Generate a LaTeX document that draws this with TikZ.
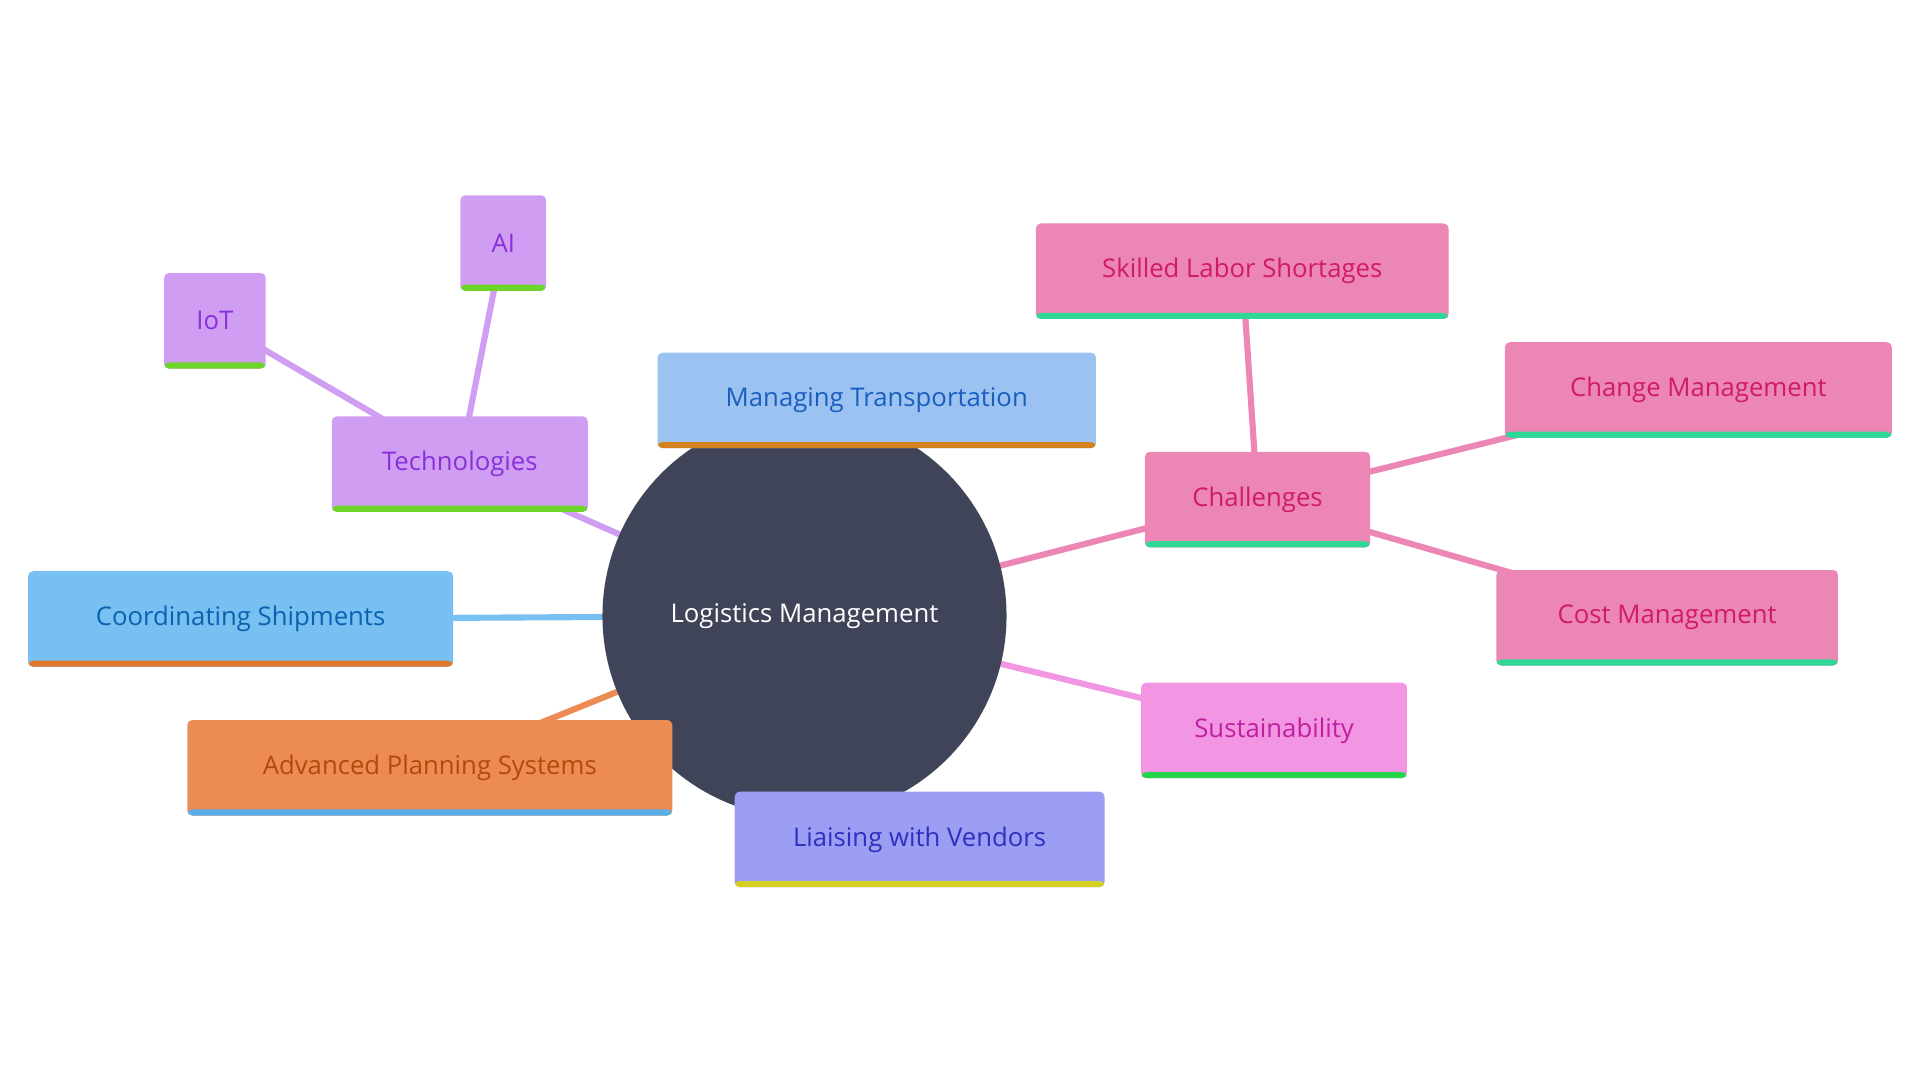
\documentclass[tikz,border=0pt]{standalone}
\usepackage{fontspec}
\setmainfont{Open Sans}
\usetikzlibrary{backgrounds}
\definecolor{core}{HTML}{404459}
\definecolor{mtF}{HTML}{9BC2F0}\definecolor{mtT}{HTML}{1A5FC0}\definecolor{mtB}{HTML}{D4821E}
\definecolor{tF}{HTML}{CF9EF2}\definecolor{tT}{HTML}{8A30D8}\definecolor{tB}{HTML}{6DD42A}
\definecolor{csF}{HTML}{78BFF2}\definecolor{csT}{HTML}{0A62B0}\definecolor{csB}{HTML}{E0782E}
\definecolor{apF}{HTML}{EC8C54}\definecolor{apT}{HTML}{B34A0A}\definecolor{apB}{HTML}{5AAEE8}
\definecolor{lvF}{HTML}{9B9EF2}\definecolor{lvT}{HTML}{3030C0}\definecolor{lvB}{HTML}{D4CF20}
\definecolor{suF}{HTML}{F295E2}\definecolor{suT}{HTML}{C020A0}\definecolor{suB}{HTML}{22D44A}
\definecolor{chF}{HTML}{EC86B4}\definecolor{chT}{HTML}{D01A6A}\definecolor{chB}{HTML}{30D898}
\tikzset{
 x=1pt,y=-1pt,
 box/.style n args={4}{draw=none,fill=#1,text=#2,rounded corners=4pt,minimum height=78pt,minimum width=#4,inner sep=0pt,
   font=\fontsize{21}{25}\selectfont,
   path picture={\fill[#3] ([yshift=5pt]path picture bounding box.south west) rectangle (path picture bounding box.south east);}},
 edge/.style={line width=5pt,draw=#1},
}
\begin{document}
\begin{tikzpicture}
\useasboundingbox (0,0) rectangle (1568,882);
\node[circle,fill=core,minimum size=330pt,text=white,font=\fontsize{21}{25}\selectfont] (lm) at (657,503) {Logistics Management};
\node[box={mtF}{mtT}{mtB}{358pt}] (mt) at (716,327) {Managing Transportation};
\node[box={tF}{tT}{tB}{209pt}] (tech) at (375.5,379) {Technologies};
\node[box={tF}{tT}{tB}{83pt}] (iot) at (175.5,262) {IoT};
\node[box={tF}{tT}{tB}{70pt}] (ai) at (411,198.5) {AI};
\node[box={csF}{csT}{csB}{347pt}] (cs) at (196.5,505.5) {Coordinating Shipments};
\node[box={apF}{apT}{apB}{396pt}] (aps) at (351,627) {Advanced Planning Systems};
\node[box={lvF}{lvT}{lvB}{302pt}] (lv) at (751,685.5) {Liaising with Vendors};
\node[box={suF}{suT}{suB}{217pt}] (su) at (1040.5,596.5) {Sustainability};
\node[box={chF}{chT}{chB}{184pt}] (ch) at (1027,408) {Challenges};
\node[box={chF}{chT}{chB}{337pt}] (sk) at (1014.5,221.5) {Skilled Labor Shortages};
\node[box={chF}{chT}{chB}{316pt}] (cm) at (1387,318.5) {Change Management};
\node[box={chF}{chT}{chB}{279pt}] (co) at (1361.5,504.5) {Cost Management};
\begin{scope}[on background layer]
\draw[edge=tF] (lm.center) -- (tech.center);
\draw[edge=tF] (tech.center) -- (iot.center);
\draw[edge=tF] (tech.center) -- (ai.center);
\draw[edge=csF] (lm.center) -- (cs.center);
\draw[edge=apF] (lm.center) -- (aps.center);
\draw[edge=suF] (lm.center) -- (su.center);
\draw[edge=chF] (lm.center) -- (ch.center);
\draw[edge=chF] (ch.center) -- (sk.center);
\draw[edge=chF] (ch.center) -- (cm.center);
\draw[edge=chF] (ch.center) -- (co.center);
\end{scope}
\end{tikzpicture}
\end{document}
